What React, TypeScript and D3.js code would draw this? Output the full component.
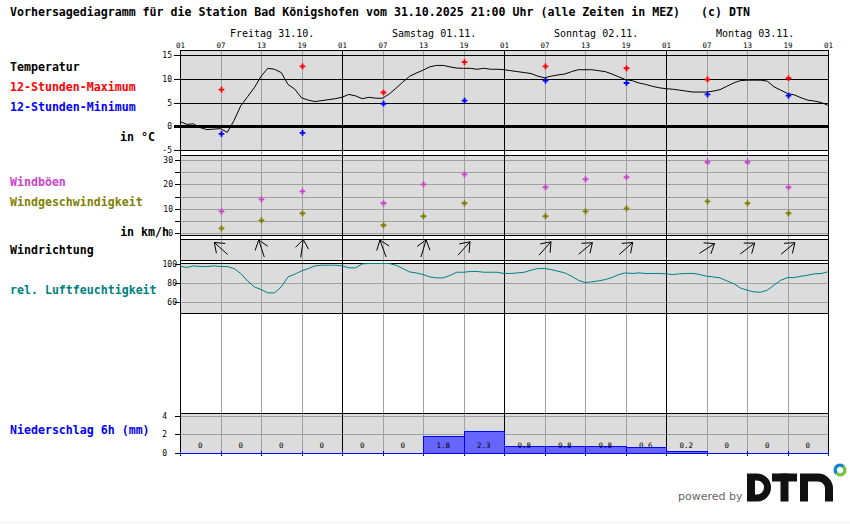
import React, { useEffect, useRef } from "react";
import * as d3 from "d3";

const title =
  "Vorhersagediagramm für die Station Bad Königshofen vom 31.10.2025 21:00 Uhr (alle Zeiten in MEZ)   (c) DTN";
const dayLabels = ["Freitag 31.10.", "Samstag 01.11.", "Sonntag 02.11.", "Montag 03.11."];
const hourLabels = ["01", "07", "13", "19"];

// hourly temperature, 01 Fri .. 01 Tue (97 values)
const tempHourly = [
  1.0, 0.4, 0.5, -0.3, -0.7, -0.6, -0.5, -1.3, 1.2, 4.3,
  6.2, 8.1, 10.5, 12.2, 12.0, 11.3, 8.8, 7.8, 6.0, 5.5,
  5.2, 5.4, 5.6, 5.8, 6.1, 6.7, 6.4, 5.8, 6.1, 5.9,
  5.9, 6.8, 8.0, 9.3, 10.5, 11.2, 11.8, 12.5, 12.8, 12.8,
  12.5, 12.25, 12.2, 12.2, 12.0, 12.2, 12.0, 12.0, 11.9, 11.7,
  11.5, 11.3, 11.1, 10.55, 10.2, 10.55, 10.8, 11.0, 11.5, 11.9,
  11.9, 11.9, 11.7, 11.5, 11.0, 10.4, 9.8, 9.6, 9.1, 8.8,
  8.4, 8.1, 7.9, 7.8, 7.6, 7.4, 7.2, 7.2, 7.2, 7.4,
  7.7, 8.4, 9.1, 9.6, 9.7, 9.7, 9.7, 9.5, 8.3, 7.6,
  6.9, 6.6, 6.0, 5.5, 5.3, 5.0, 4.4,
];

// hourly relative humidity in %
const humHourly = [
  97.2, 95.8, 97.5, 96.8, 96.8, 97.5, 96.8, 96.8, 94.7, 89.5,
  81.7, 75.4, 72.6, 69.1, 69.1, 75.4, 85.9, 88.7, 92.2, 94.7,
  97.5, 98.2, 98.2, 98.2, 97.5, 95.4, 95.4, 99.6, 100, 100,
  100, 100, 98.2, 94.7, 91.2, 90.1, 88.4, 85.9, 84.9, 84.9,
  87.4, 90.8, 90.8, 91.6, 91.6, 90.8, 90.8, 90.8, 89.5, 89.5,
  90.1, 90.8, 93, 94.7, 94.7, 93.6, 91.9, 90.1, 86.6, 82.4,
  80, 80.7, 81.7, 83.1, 85.2, 88.4, 90.1, 89.5, 90.1, 89.5,
  89.5, 89.5, 89.1, 88.4, 89.1, 89.5, 89.5, 88.4, 86.6, 85.9,
  84.9, 81.7, 78.9, 74.3, 71.9, 70.1, 69.8, 71.9, 77.2, 82.4,
  85.2, 85.2, 86.6, 87.7, 89.1, 89.5, 91.2,
];

// 12h max / min at 07 and 19
const extremeHours = [6, 18, 30, 42, 54, 66, 78, 90];
const tempMax = [7.7, 12.6, 7.1, 13.5, 12.6, 12.2, 9.85, 10.1];
const tempMin = [-1.6, -1.4, 4.75, 5.4, 9.6, 9.1, 6.7, 6.45];

// wind at 07, 13, 19
const windHours = [6, 12, 18, 30, 36, 42, 54, 60, 66, 78, 84, 90];
const windGust = [8.9, 13.8, 17.1, 12.2, 20.0, 24.1, 18.8, 22.1, 22.9, 29.1, 29.1, 18.8];
const windSpeed = [1.9, 5.2, 8.1, 3.2, 6.9, 12.2, 6.9, 8.9, 10.1, 13.0, 12.2, 8.1];
const windArrow = [312, 342, 8, 340, 17, 42, 42, 50, 48, 57, 53, 50];

// precipitation per 6h block
const precip6h = [0, 0, 0, 0, 0, 0, 1.8, 2.3, 0.8, 0.8, 0.8, 0.6, 0.2, 0, 0, 0];

const MONO = "'DejaVu Sans Mono', 'Liberation Mono', monospace";

const Meteogram: React.FC = () => {
  const svgRef = useRef<SVGSVGElement>(null);

  useEffect(() => {
    if (!svgRef.current) return;
    const svg = d3.select(svgRef.current);
    svg.selectAll("*").remove();

    const x0 = 180;
    const x1 = 828;
    const x = d3.scaleLinear().domain([0, 96]).range([x0, x1]);
    const tY = d3.scaleLinear().domain([-5, 15]).range([150, 55]);
    const wY = d3.scaleLinear().domain([0, 30]).range([233, 160]);
    const hY = d3.scaleLinear().domain([60, 100]).range([301.5, 263.5]);
    const pY = d3.scaleLinear().domain([0, 4]).range([453, 415.5]);
    const px = (v: number) => Math.round(v) + 0.5;

    const panelFill = "#dcdcdc";
    const gridGrey = "#a0a0a0";

    svg.append("rect").attr("width", 850).attr("height", 524).attr("fill", "#fff");

    const panels = [
      [50, 150],
      [155, 235],
      [239, 260],
      [263, 313],
      [413, 453],
    ];
    panels.forEach(([a, b]) => {
      svg
        .append("rect")
        .attr("x", x0)
        .attr("y", a)
        .attr("width", x1 - x0)
        .attr("height", b - a)
        .attr("fill", panelFill);
    });

    const g = svg.append("g").attr("shape-rendering", "crispEdges");
    const hline = (y: number, color: string, w = 1, xa = x0, xb = x1) =>
      g
        .append("line")
        .attr("x1", xa)
        .attr("x2", xb)
        .attr("y1", w % 2 ? px(y) : Math.round(y))
        .attr("y2", w % 2 ? px(y) : Math.round(y))
        .attr("stroke", color)
        .attr("stroke-width", w);

    // horizontal grids
    d3.range(0, 31, 5).forEach((v) => {
      hline(wY(v), gridGrey);
      hline(wY(v), "#000", 1, 175, x0);
    });
    [60, 80].forEach((v) => hline(hY(v), gridGrey));
    [60, 80, 100].forEach((v) => hline(hY(v), "#000", 1, 175, x0));
    [2, 4].forEach((v) => hline(pY(v), gridGrey));
    [0, 2, 4].forEach((v) => hline(pY(v), "#000", 1, 175, x0));

    // vertical 6h lines
    d3.range(0, 97, 6).forEach((h) => {
      const day = h % 24 === 0;
      g.append("line")
        .attr("x1", px(x(h)))
        .attr("x2", px(x(h)))
        .attr("y1", 50)
        .attr("y2", 453)
        .attr("stroke", day ? "#000" : gridGrey)
        .attr("stroke-width", 1);
    });

    // temperature grid
    [5, 10, 15].forEach((v) => hline(tY(v), "#000", 1, 174));
    hline(tY(-5), "#000", 1, 174);
    hline(tY(0), "#000", 3, 174);
    hline(50, "#000");

    // panel borders
    [155, 235, 239, 260, 263, 313, 413].forEach((y) => hline(y, "#000"));

    // precipitation bars
    precip6h.forEach((v, i) => {
      if (v > 0) {
        svg
          .append("rect")
          .attr("x", px(x(i * 6)))
          .attr("y", px(pY(v)))
          .attr("width", Math.round(x(i * 6 + 6)) - Math.round(x(i * 6)))
          .attr("height", Math.round(pY(0)) - Math.round(pY(v)))
          .attr("fill", "#6666ff")
          .attr("stroke", "#0000ff")
          .attr("shape-rendering", "crispEdges");
      }
    });
    hline(pY(0), "#0000ff");
    d3.range(0, 97, 6).forEach((h) => {
      g.append("line")
        .attr("x1", px(x(h)))
        .attr("x2", px(x(h)))
        .attr("y1", 451)
        .attr("y2", 456)
        .attr("stroke", "#0000ff");
    });
    precip6h.forEach((v, i) => {
      svg
        .append("text")
        .attr("x", x(i * 6 + 3))
        .attr("y", 447.5)
        .attr("text-anchor", "middle")
        .attr("font-family", MONO)
        .attr("font-size", 7.5)
        .text(v === 0 ? "0" : v.toFixed(1));
    });

    // temperature curve
    const line = d3
      .line<number>()
      .x((_, i) => x(i))
      .curve(d3.curveLinear);
    svg
      .append("path")
      .attr("d", line.y((d) => tY(d))(tempHourly))
      .attr("fill", "none")
      .attr("stroke", "#000")
      .attr("stroke-width", 1);

    // humidity curve
    svg
      .append("path")
      .attr("d", line.y((d) => hY(d))(humHourly))
      .attr("fill", "none")
      .attr("stroke", "#008080")
      .attr("stroke-width", 1);

    const marker = d3.symbol().type(d3.symbolCross).size(18);
    const dots = (hours: number[], vals: number[], y: d3.ScaleLinear<number, number>, color: string) => {
      hours.forEach((h, i) => {
        svg
          .append("path")
          .attr("d", marker()!)
          .attr("transform", `translate(${px(x(h))},${y(vals[i])})`)
          .attr("fill", color);
      });
    };
    dots(extremeHours, tempMax, tY, "#ff0000");
    dots(extremeHours, tempMin, tY, "#0000ff");
    dots(windHours, windGust, wY, "#cc44cc");
    dots(windHours, windSpeed, wY, "#808000");

    // wind direction arrows
    const L = 18;
    const headLen = 11;
    const spread = (37 * Math.PI) / 180;
    windHours.forEach((h, i) => {
      const a = (windArrow[i] * Math.PI) / 180;
      const ux = Math.sin(a);
      const uy = -Math.cos(a);
      const cx = x(h) + 0.5;
      const cy = 248.5;
      const tipX = cx + (ux * L) / 2;
      const tipY = cy + (uy * L) / 2;
      const tailX = cx - (ux * L) / 2;
      const tailY = cy - (uy * L) / 2;
      const heads = [spread, -spread].map((s) => {
        const bx = -ux * Math.cos(s) + uy * Math.sin(s);
        const by = -ux * Math.sin(s) - uy * Math.cos(s);
        return `M${tipX},${tipY}L${tipX + bx * headLen},${tipY + by * headLen}`;
      });
      svg
        .append("path")
        .attr("d", `M${tailX},${tailY}L${tipX},${tipY}` + heads.join(""))
        .attr("fill", "none")
        .attr("stroke", "#000")
        .attr("stroke-width", 1);
    });

    // top labels
    svg
      .append("text")
      .attr("x", 10)
      .attr("y", 15.5)
      .attr("font-family", MONO)
      .attr("font-weight", "bold")
      .attr("font-size", 11.6)
      .attr("xml:space", "preserve")
      .style("white-space", "pre")
      .text(title);

    dayLabels.forEach((d, i) => {
      svg
        .append("text")
        .attr("x", x(i * 24) + 50)
        .attr("y", 37)
        .attr("font-family", MONO)
        .attr("font-size", 10)
        .text(d);
    });

    d3.range(0, 97, 6).forEach((h) => {
      svg
        .append("text")
        .attr("x", x(h) + 0.5)
        .attr("y", 48)
        .attr("text-anchor", "middle")
        .attr("font-family", MONO)
        .attr("font-size", 7.5)
        .text(hourLabels[(h / 6) % 4]);
    });

    // axis tick labels
    const axisText = (vals: number[], y: d3.ScaleLinear<number, number>, xr: number) => {
      vals.forEach((v) => {
        svg
          .append("text")
          .attr("x", xr)
          .attr("y", y(v) + 3)
          .attr("text-anchor", "end")
          .attr("font-family", MONO)
          .attr("font-size", 8)
          .text(String(v));
      });
    };
    axisText([-5, 0, 5, 10, 15], tY, 172);
    axisText([0, 10, 20, 30], wY, 173);
    axisText([60, 80, 100], hY, 177);
    axisText([0, 2, 4], pY, 167);

    // left legend
    const legend: [string, number, number, string, string][] = [
      ["Temperatur", 10, 71, "#000", "start"],
      ["12-Stunden-Maximum", 10, 91, "#ff0000", "start"],
      ["12-Stunden-Minimum", 10, 111, "#0000ff", "start"],
      ["in °C", 155, 141, "#000", "end"],
      ["Windböen", 10, 186, "#cc44cc", "start"],
      ["Windgeschwindigkeit", 10, 206, "#808000", "start"],
      ["in km/h", 169, 236, "#000", "end"],
      ["Windrichtung", 10, 254, "#000", "start"],
      ["rel. Luftfeuchtigkeit", 10, 293.5, "#008080", "start"],
      ["Niederschlag 6h (mm)", 10, 434, "#0000ff", "start"],
    ];
    legend.forEach(([t, lx, ly, c, anchor]) => {
      svg
        .append("text")
        .attr("x", lx)
        .attr("y", ly)
        .attr("text-anchor", anchor)
        .attr("font-family", MONO)
        .attr("font-weight", "bold")
        .attr("font-size", 11.6)
        .attr("fill", c)
        .text(t);
    });

    // powered by DTN
    svg
      .append("text")
      .attr("x", 678)
      .attr("y", 500)
      .attr("font-family", "'DejaVu Sans', sans-serif")
      .attr("font-size", 11)
      .attr("fill", "#666")
      .text("powered by");
    const logo = svg.append("g").attr("fill", "#111");
    logo
      .append("path")
      .attr("fill-rule", "evenodd")
      .attr(
        "d",
        "M747,473.5 H757 A14,14 0 0 1 757,501.5 H747 Z M755,480.5 V494.5 H757 A7,7 0 0 0 757,480.5 Z"
      );
    logo.append("rect").attr("x", 772).attr("y", 473.5).attr("width", 25).attr("height", 8);
    logo.append("rect").attr("x", 780.5).attr("y", 473.5).attr("width", 8).attr("height", 28);
    logo
      .append("path")
      .attr(
        "d",
        "M800,501.5 V473.5 H818 A15,15 0 0 1 833,488.5 V501.5 H825 V488.5 A7,7 0 0 0 818,481.5 H808 V501.5 Z"
      );
    const ring = d3.arc<any>().innerRadius(3).outerRadius(6.5);
    svg
      .append("path")
      .attr("transform", "translate(840,470)")
      .attr("d", ring({ startAngle: (-3 * Math.PI) / 4, endAngle: Math.PI / 4 }) as string)
      .attr("fill", "#1487c9");
    svg
      .append("path")
      .attr("transform", "translate(840,470)")
      .attr("d", ring({ startAngle: Math.PI / 4, endAngle: (5 * Math.PI) / 4 }) as string)
      .attr("fill", "#7cc142");

    hline(522, "#eeeeee", 1, 0, 850);
  }, []);

  return (
    <svg
      ref={svgRef}
      width={850}
      height={524}
      style={{ position: "absolute", left: 0, top: 0, display: "block" }}
    />
  );
};

export default function App() {
  return <Meteogram />;
}
